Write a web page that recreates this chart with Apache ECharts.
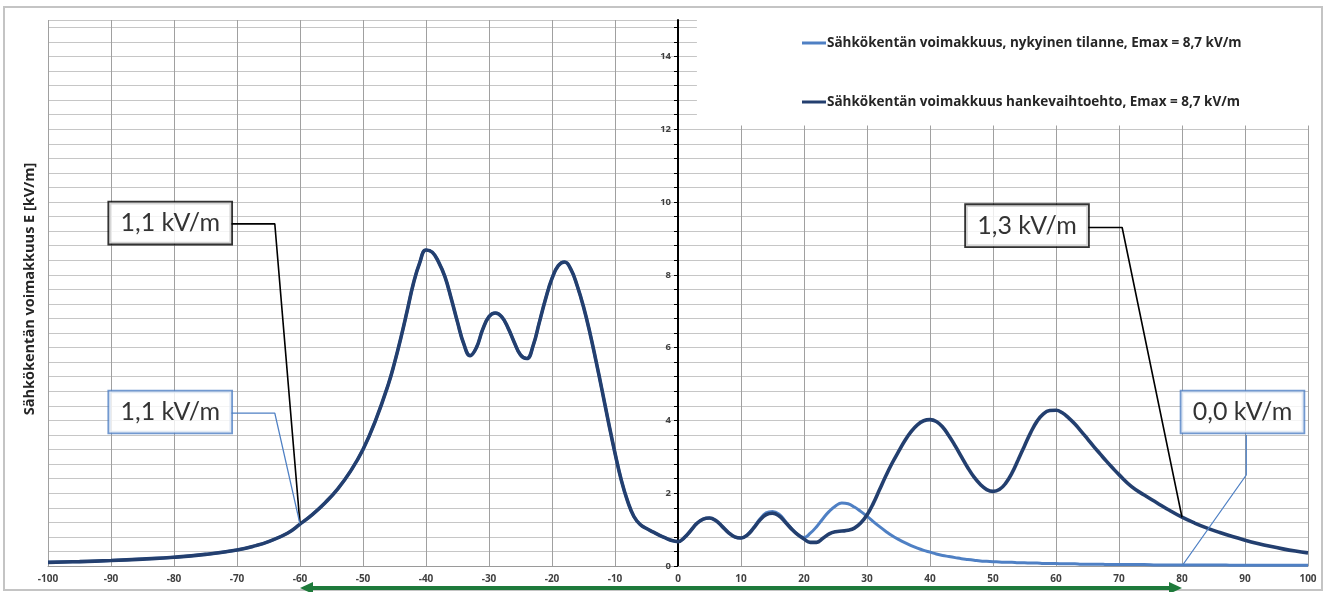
<!DOCTYPE html>
<html><head><meta charset="utf-8">
<script src="https://cdn.jsdelivr.net/npm/echarts@6/dist/echarts.min.js"></script>
<style>html,body{margin:0;padding:0;background:#fff}#c{width:1327px;height:592px}</style>
</head><body><div id="c"></div>
<script>
// ---- data ----
const xs = [-100,-95,-90,-85,-80,-75,-70,-67,-65,-62,-60,-58,-56,-54,-52,-50,-48,-46,-45,-44,-43,-42,-41,-40,-39,-38,-37,-36,-35,-34,-33,-32,-31,-30,-29,-28,-27,-26,-25,-24,-23,-22,-21,-20,-19,-18,-17,-16,-15,-14,-13,-12,-11,-10,-9,-8,-7,-6,-5,-4,-3,-2,-1,
  0,1,2,3,4,5,6,7,8,9,10,11,12,13,14,15,16,17,18,19,20,21,22,23,24,25,26,27,28,29,30,31,32,33,34,35,36,37,38,39,40,41,42,43,44,45,46,47,48,49,50,51,52,53,54,55,56,57,58,59,60,61,62,63,64,65,66,67,68,69,70,
  72,74,76,78,80,82,84,86,88,90,92,94,96,98,100];
// Sähkökentän voimakkuus hankevaihtoehto [kV/m]
const hankeValues = [0.10,0.12,0.15,0.19,0.24,0.32,0.44,0.56,0.67,0.90,1.15,1.42,1.74,2.12,2.60,3.20,4.00,4.98,5.58,6.26,7.00,7.76,8.33,8.68,8.62,8.35,7.95,7.35,6.70,6.10,5.78,6.00,6.50,6.85,6.95,6.85,6.55,6.15,5.80,5.70,6.05,6.70,7.35,7.90,8.25,8.35,8.15,7.70,7.12,6.42,5.62,4.78,3.92,3.10,2.36,1.78,1.36,1.14,1.03,0.94,0.85,0.77,0.70,
  0.67,0.78,0.97,1.17,1.29,1.32,1.25,1.09,0.92,0.80,0.77,0.85,1.04,1.26,1.41,1.45,1.38,1.21,1.02,0.86,0.74,0.65,0.65,0.76,0.88,0.94,0.96,0.98,1.04,1.18,1.40,1.72,2.10,2.48,2.83,3.14,3.44,3.69,3.88,3.99,4.02,3.97,3.82,3.58,3.30,3.00,2.70,2.44,2.24,2.10,2.05,2.10,2.27,2.55,2.92,3.30,3.67,3.98,4.18,4.27,4.28,4.21,4.07,3.90,3.70,3.49,3.28,3.08,2.88,2.69,2.51,
  2.18,1.95,1.74,1.53,1.34,1.18,1.04,0.92,0.81,0.71,0.62,0.54,0.47,0.41,0.36];
// Sähkökentän voimakkuus, nykyinen tilanne [kV/m]
const nykyinenValues = [0.10,0.12,0.15,0.19,0.24,0.32,0.44,0.56,0.67,0.90,1.15,1.42,1.74,2.12,2.60,3.20,4.00,4.98,5.58,6.26,7.00,7.76,8.33,8.68,8.62,8.35,7.95,7.35,6.70,6.10,5.78,6.00,6.50,6.85,6.95,6.85,6.55,6.15,5.80,5.70,6.05,6.70,7.35,7.90,8.25,8.35,8.15,7.70,7.12,6.42,5.62,4.78,3.92,3.10,2.36,1.78,1.36,1.14,1.03,0.94,0.85,0.77,0.70,
  0.67,0.78,0.97,1.17,1.29,1.32,1.25,1.09,0.92,0.80,0.77,0.86,1.06,1.29,1.46,1.50,1.43,1.24,1.03,0.87,0.78,0.90,1.08,1.30,1.50,1.65,1.73,1.71,1.62,1.50,1.37,1.22,1.08,0.95,0.83,0.73,0.64,0.56,0.49,0.43,0.38,0.33,0.29,0.26,0.23,0.20,0.18,0.16,0.14,0.13,0.12,0.11,0.10,0.10,0.09,0.09,0.08,0.08,0.07,0.07,0.07,0.06,0.06,0.06,0.05,0.05,0.05,0.05,0.04,0.04,0.04,
  0.04,0.04,0.03,0.03,0.03,0.03,0.03,0.03,0.02,0.02,0.02,0.02,0.02,0.02,0.02];
const seriesNames = ['Sähkökentän voimakkuus, nykyinen tilanne, Emax = 8,7 kV/m', 'Sähkökentän voimakkuus hankevaihtoehto, Emax = 8,7 kV/m'];
const yTickLabels = ['0','2','4','6','8','10','12','14'];
const yAxisTitle = 'Sähkökentän voimakkuus E [kV/m]';
// callouts: text, box centre [x,y], leader path (data coords)
const calloutTexts = ['1,1 kV/m','1,1 kV/m','1,3 kV/m','0,0 kV/m'];
const calloutCentres = [[-80.6,9.42],[-80.6,4.23],[55.4,9.35],[89.6,4.23]];
const calloutLeaders = [
  [[-71,9.4],[-64,9.4],[-60,1.15]],
  [[-71,4.2],[-64,4.2],[-60,1.15]],
  [[65.1,9.3],[70.5,9.3],[80,1.34]],
  [[90.2,3.6],[90.2,2.5],[80,0]]
];
const arrowRange = [-60, 80];

// ---- chart ----
const dark = '#233f6f', light = '#4f80c4';
const chart = echarts.init(document.getElementById('c'));
const pairs = v => xs.map((x,i)=>[x, v[i]]);
const labelFor = v => yTickLabels.find(t => Math.abs(Number(t) - v) < 1e-6) || '';
const font = 'Lato';
const calloutColors = ['#000', light, '#000', light];

const series = [
  {name: seriesNames[0], type:'line', data: pairs(nykyinenValues), showSymbol:false, smooth:0.45,
   lineStyle:{color: light, width:3}, itemStyle:{color: light}, z:3},
  {name: seriesNames[1], type:'line', data: pairs(hankeValues), showSymbol:false, smooth:0.45,
   lineStyle:{color: dark, width:3.6}, itemStyle:{color: dark}, z:4}
];
calloutLeaders.forEach((pts,i)=>series.push({
  type:'line', data: pts, showSymbol:false, silent:true, z:5,
  lineStyle:{color: calloutColors[i], width: i%2===0 ? 1.6 : 1.3}
}));
series.push({
  type:'scatter', silent:true, z:6, symbolSize:2, itemStyle:{color:'rgba(0,0,0,0)'},
  data: calloutCentres.map((c,i)=>({value:c, label:{borderColor: calloutColors[i]}})),
  label:{show:true, position:'inside', formatter: p => calloutTexts[p.dataIndex],
    fontFamily: font, fontSize: 25, color:'#000', backgroundColor:'#fff',
    borderWidth:1.8, width:100, align:'center', padding:[7,11,7,11], lineHeight:27}
});

const yAxisBase = {type:'value', min:0, max:15, interval:0.4,
    axisLine:{show:true, onZero:false, lineStyle:{color:'#000', width:2}},
    axisTick:{show:true, length:4, lineStyle:{color:'#000', width:1}},
    axisLabel:{color:'#404040', fontSize:9.5, fontWeight:'bold', fontFamily:'Open Sans', margin:7,
      showMaxLabel:false, formatter: labelFor},
    splitLine:{show:true, lineStyle:{color:'#c6c6c6', width:1}}};

chart.setOption({
  animation:false,
  grid:{left:48, right:19, top:20, bottom:26},
  xAxis:{type:'value', min:-100, max:100, interval:10,
    axisLine:{onZero:false, lineStyle:{color:'#9a9a9a'}}, axisTick:{show:false},
    axisLabel:{color:'#404040', fontSize:10, fontWeight:'bold', fontFamily:'Open Sans', margin:8},
    splitLine:{show:true, lineStyle:{color:'#a0a0a0', width:1}}},
  yAxis: yAxisBase,
  legend:{orient:'vertical', left:797, top:31, itemGap:45, itemWidth:24, itemHeight:3, icon:'rect',
    data: seriesNames, z:10,
    textStyle:{fontFamily:'Open Sans', fontSize:13.5, fontWeight:'bold', color:'#262626', padding:[0,0,0,-4]}},
  series
});

const P = (x,y) => chart.convertToPixel({gridIndex:0},[x,y]);
const zero = P(0,0), left = P(-100,0);
chart.setOption({yAxis: Object.assign({}, yAxisBase, {offset: -(zero[0]-left[0])})});
const a = P(arrowRange[0],0), b = P(arrowRange[1],0);
const ay = a[1] + 22;
const tl = P(3, 15), br = P(100, 12.1);
const mid = P(-100, 7.5);
chart.setOption({graphic:[
  {type:'rect', z:1, silent:true, shape:{x:tl[0], y:tl[1]-1, width:br[0]-tl[0]+2, height:br[1]-tl[1]+1}, style:{fill:'#fff'}},
  {type:'rect', z:0, silent:true, shape:{x:4, y:7, width:1318, height:583}, style:{fill:null, stroke:'#c4c4c4', lineWidth:2}},
  {type:'text', z:10, silent:true, x: 30, y: mid[1]-4, rotation: Math.PI/2,
    style:{text: yAxisTitle, font:'bold 14.5px "Open Sans"', fill:'#262626', align:'center', verticalAlign:'middle'}},
  {type:'line', z:10, silent:true, shape:{x1:a[0]+8, y1:ay, x2:b[0]-8, y2:ay}, style:{stroke:'#1e7a3b', lineWidth:4}},
  {type:'polygon', z:10, silent:true, shape:{points:[[a[0],ay],[a[0]+13,ay-6],[a[0]+13,ay+6]]}, style:{fill:'#1e7a3b'}},
  {type:'polygon', z:10, silent:true, shape:{points:[[b[0],ay],[b[0]-13,ay-6],[b[0]-13,ay+6]]}, style:{fill:'#1e7a3b'}}
]});
</script></body></html>
